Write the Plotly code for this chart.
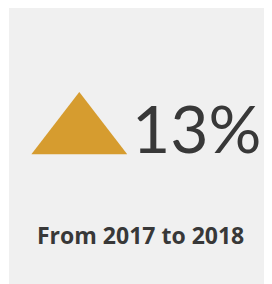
import plotly.graph_objects as go

# Data
years = [2017, 2018]
change_pct = [13]

# The page body adds an 8px offset; axes are set so data units equal page pixels.
OFF = 8
X1, Y1 = 264, 284
W, H = X1 - OFF, Y1 - OFF
fig = go.Figure()

fig.add_trace(go.Scatter(
    x=[79.3], y=[133.5], mode="markers",
    marker=dict(symbol="triangle-up", size=83, color="#D69C2F", line=dict(width=0)),
    hoverinfo="skip", showlegend=False,
))

fig.add_annotation(
    x=130, y=127.5, xref="x", yref="y", xanchor="left", yanchor="middle",
    text=f"{change_pct[0]}%", showarrow=False,
    font=dict(family="Lato", size=66, color="#383838"),
)
fig.add_annotation(
    x=140.5, y=235, xref="x", yref="y", xanchor="center", yanchor="middle",
    text=f"<b>From {years[0]} to {years[1]}</b>", showarrow=False,
    font=dict(family="Open Sans", size=23, color="#383838"),
)

fig.add_shape(type="rect", x0=9, x1=X1, y0=OFF, y1=Y1, xref="x", yref="y",
              fillcolor="#F0F0F0", line=dict(width=0), layer="below")

fig.update_layout(
    width=W, height=H, margin=dict(l=0, r=0, t=0, b=0),
    paper_bgcolor="white", plot_bgcolor="white",
    xaxis=dict(range=[OFF, X1], visible=False, fixedrange=True),
    yaxis=dict(range=[Y1, OFF], visible=False, fixedrange=True),
)
fig.write_html("out.html", config={"displayModeBar": False})
